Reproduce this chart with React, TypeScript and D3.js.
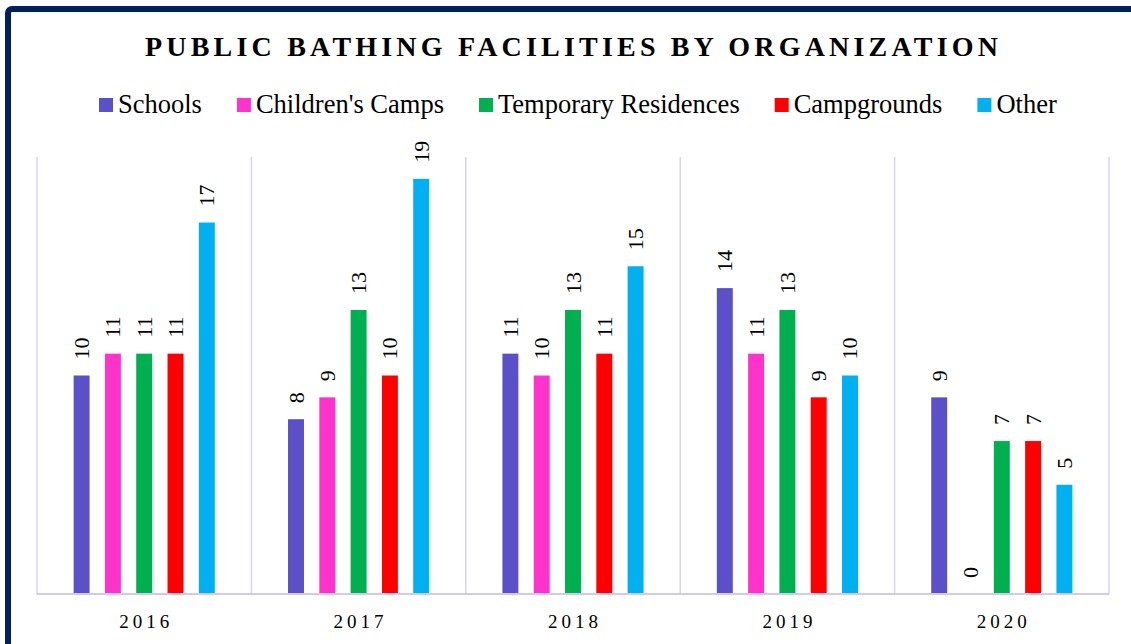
import React, { useEffect, useRef } from 'react';
import * as d3 from 'd3';

const years = ['2016', '2017', '2018', '2019', '2020'];
const seriesNames = ['Schools', "Children's Camps", 'Temporary Residences', 'Campgrounds', 'Other'];
const seriesColors = ['#5B50C8', '#FF33CC', '#00B050', '#FF0000', '#00B0F0'];
const schools = [10, 8, 11, 14, 9];
const childrensCamps = [11, 9, 10, 11, 0];
const temporaryResidences = [11, 13, 13, 13, 7];
const campgrounds = [11, 10, 11, 9, 7];
const other = [17, 19, 15, 10, 5];
const yMax = 20;

const seriesValues = [schools, childrensCamps, temporaryResidences, campgrounds, other];

const W = 1131;
const H = 644;

export default function App() {
  const ref = useRef<SVGSVGElement>(null);

  useEffect(() => {
    const svg = d3.select(ref.current);
    svg.selectAll('*').remove();

    const serif = "'Times New Roman', 'Liberation Serif', serif";
    const margin = { top: 157, right: 22, bottom: 50, left: 37 };

    // outer frame
    svg.append('rect')
      .attr('x', 8).attr('y', 9)
      .attr('width', W + 20).attr('height', H + 20)
      .attr('rx', 4)
      .attr('fill', 'white')
      .attr('stroke', '#002060')
      .attr('stroke-width', 6);

    // title
    svg.append('text')
      .attr('x', 145).attr('y', 56)
      .attr('textLength', 853)
      .attr('lengthAdjust', 'spacing')
      .attr('font-family', serif)
      .attr('font-weight', 'bold')
      .attr('font-size', 28)
      .attr('fill', '#000')
      .text('PUBLIC BATHING FACILITIES BY ORGANIZATION');

    // legend
    const legendSize = 26.5;
    const ctx = document.createElement('canvas').getContext('2d')!;
    ctx.font = `${legendSize}px 'Liberation Serif'`;
    let lx = 99;
    const legend = svg.append('g');
    seriesNames.forEach((name, i) => {
      legend.append('rect')
        .attr('x', lx).attr('y', 98)
        .attr('width', 14).attr('height', 14)
        .attr('fill', seriesColors[i]);
      legend.append('text')
        .attr('x', lx + 19).attr('y', 113)
        .attr('font-family', serif)
        .attr('font-size', legendSize)
        .attr('fill', '#000')
        .text(name);
      lx += 19 + ctx.measureText(name).width + 35;
    });

    const x0 = d3.scaleBand<string>()
      .domain(years)
      .range([margin.left, W - margin.right]);

    const x1 = d3.scaleBand<string>()
      .domain(seriesNames)
      .range([0, x0.bandwidth()])
      .paddingInner(0.49)
      .paddingOuter(1.17);

    const y = d3.scaleLinear()
      .domain([0, yMax])
      .range([H - margin.bottom, margin.top]);

    const grid = svg.append('g');
    // vertical separators
    const edges = years.map(yr => x0(yr)!).concat([x0.range()[1]]);
    edges.forEach(ex => {
      grid.append('line')
        .attr('x1', ex).attr('x2', ex)
        .attr('y1', y(yMax)).attr('y2', y(0))
        .attr('stroke', '#D9D4F0')
        .attr('stroke-width', 1.5);
    });

    // bars
    const groups = svg.append('g')
      .selectAll('g')
      .data(years)
      .join('g')
      .attr('transform', d => `translate(${x0(d)},0)`);

    seriesNames.forEach((name, si) => {
      groups.append('rect')
        .attr('x', x1(name)!)
        .attr('width', x1.bandwidth())
        .attr('y', (_, i) => y(seriesValues[si][i]))
        .attr('height', (_, i) => y(0) - y(seriesValues[si][i]))
        .attr('fill', seriesColors[si]);

      groups.append('text')
        .attr('transform', (_, i) =>
          `translate(${x1(name)! + x1.bandwidth() / 2 + 7.5},${y(seriesValues[si][i]) - 16}) rotate(-90)`)
        .attr('font-family', serif)
        .attr('font-size', 22)
        .attr('fill', '#000')
        .text((_, i) => String(seriesValues[si][i]));
    });

    // x axis
    svg.append('line')
      .attr('x1', x0.range()[0]).attr('x2', x0.range()[1])
      .attr('y1', y(0)).attr('y2', y(0))
      .attr('stroke', '#D0CBEE')
      .attr('stroke-width', 2);

    svg.append('g')
      .selectAll('text')
      .data(years)
      .join('text')
      .attr('x', d => x0(d)! + x0.bandwidth() / 2 + 2)
      .attr('y', 628)
      .attr('text-anchor', 'middle')
      .attr('font-family', serif)
      .attr('font-size', 19)
      .attr('letter-spacing', 4)
      .attr('fill', '#000')
      .text(d => d);
  }, []);

  return (
    <svg
      ref={ref}
      width={W}
      height={H}
      style={{ position: 'absolute', left: 0, top: 0, display: 'block' }}
    />
  );
}
